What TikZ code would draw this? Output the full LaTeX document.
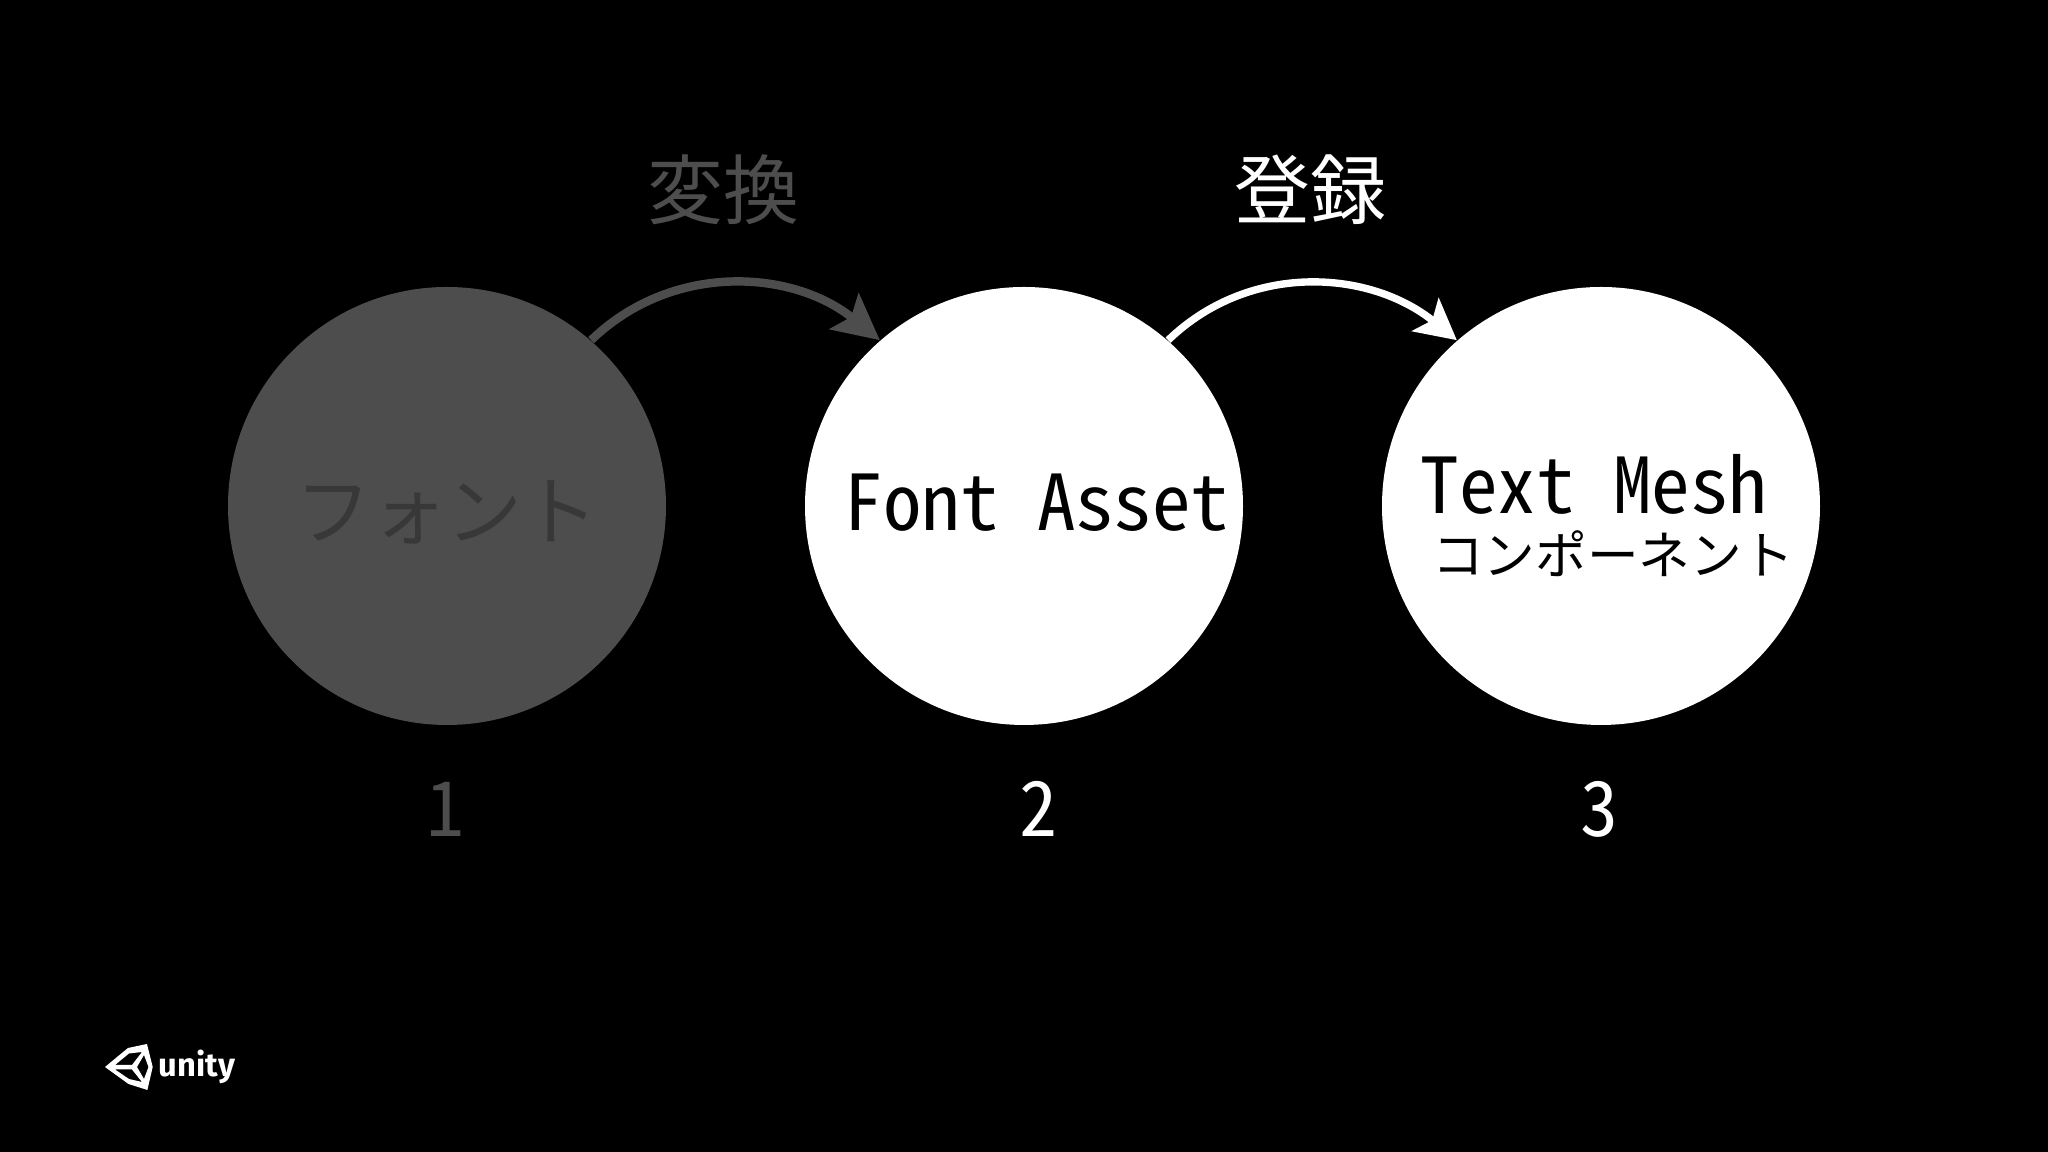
\documentclass[tikz,border=0pt]{standalone}
\usepackage{fontspec}
\usetikzlibrary{arrows.meta}
\newfontfamily\jpfont{Noto Sans CJK JP}
\newfontfamily\halffont[RawFeature=+hwid]{Noto Sans CJK JP}
\newfontfamily\logofont{Fira Sans}
\definecolor{mygray}{HTML}{4D4D4D}
\definecolor{mydark}{HTML}{383838}
\tikzstyle{bigcircle} = [circle,inner sep=0pt,minimum size=4.38cm]
\tikzstyle{arrow} = [line width=2.4pt,-{Stealth[length=13pt,width=13pt,inset=2.5pt]},out=44,in=141,looseness=1]
\tikzstyle{bigtext} = [inner sep=0pt,font=\fontsize{21.6}{24}\selectfont\halffont]
\tikzstyle{latintext} = [inner sep=0pt,font=\fontsize{21.9}{24}\selectfont\halffont]
\tikzstyle{smalltext} = [inner sep=0pt,font=\fontsize{14.7}{16}\selectfont\jpfont]

\begin{document}
\begin{tikzpicture}
            % basics
            \fill [black] (0,0) rectangle (20.48,11.52);
            \node [bigcircle,fill=mygray] (fontcircle) at (4.47,6.46) {};
            \node [bigcircle,fill=white] (assetcircle) at (10.24,6.46) {};
            \node [bigcircle,fill=white] (meshcircle) at (16.01,6.46) {};
            % arrows
            \draw [arrow,color=mygray] (fontcircle.49) to (assetcircle.131);
            \draw [arrow,color=white,line width=2.1pt,-{Stealth[length=11.5pt,width=12pt,inset=2.5pt]}] (assetcircle.49) to (meshcircle.131);
            % labels
            \node [bigtext,color=mygray] (convert) at (7.23,9.62) {変換};
            \node [bigtext,color=white] (register) at (13.10,9.62) {登録};
            \node [bigtext,color=mydark] (fontlabel) at (4.47,6.40) {フォント};
            \node [latintext,color=black] (assetlabel) at (10.37,6.49) {Font Asset};
            \node [latintext,color=black] (meshlabel) at (15.94,6.68) {Text Mesh};
            \node [smalltext,color=black] (complabel) at (16.13,5.98) {コンポーネント};
            % numbers
            \node [bigtext,color=mygray] (numone) at (4.45,3.43) {1};
            \node [bigtext,color=white] (numtwo) at (10.38,3.43) {2};
            \node [bigtext,color=white] (numthree) at (15.99,3.43) {3};
            % logo
            \fill [white,even odd rule] (1.05,0.85) -- (1.28,1.04) -- (1.47,1.08) -- (1.527,0.85) -- (1.474,0.62) -- (1.285,0.68) -- cycle
                (1.15,0.87) -- (1.32,0.87) -- (1.42,1.00) -- (1.29,0.985) -- cycle
                (1.15,0.825) -- (1.32,0.825) -- (1.42,0.70) -- (1.29,0.73) -- cycle
                (1.37,0.85) -- (1.44,0.97) -- (1.485,0.85) -- (1.44,0.73) -- cycle;
            \node [inner sep=0pt,color=white,font=\fontsize{9.3}{12}\selectfont\logofont\bfseries] (logotext) at (1.97,0.85) {unity};
\end{tikzpicture}
\end{document}
